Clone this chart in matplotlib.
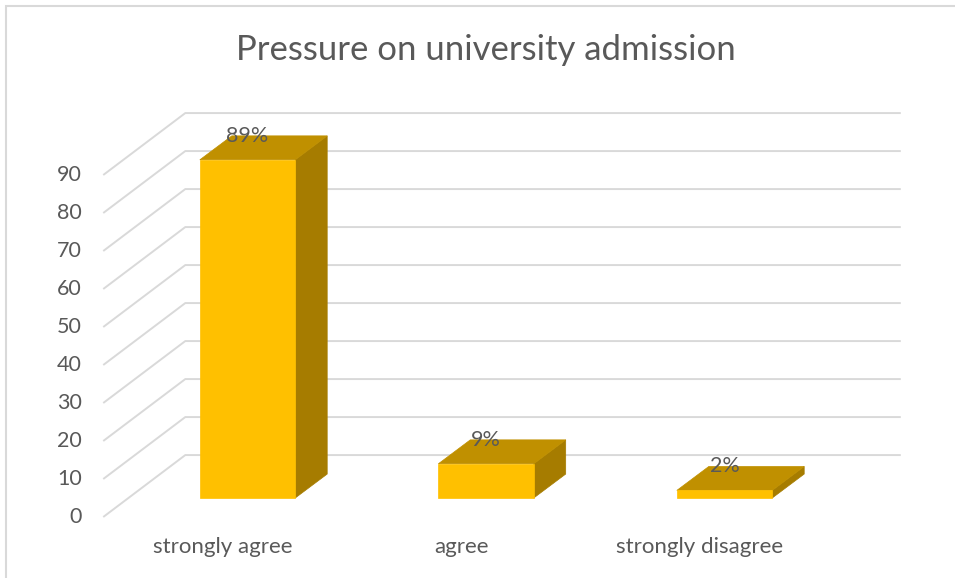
import matplotlib.pyplot as plt
from matplotlib.patches import Polygon, Rectangle

# data
categories = ['strongly agree', 'agree', 'strongly disagree']
values = [89, 9, 2]
value_labels = ['89%', '9%', '2%']
yticks = [0, 10, 20, 30, 40, 50, 60, 70, 80, 90]

title = 'Pressure on university admission'
text_color = '#595959'
grid_color = '#D9D9D9'
front_color = '#FFC000'
top_color = '#C09000'
side_color = '#A67C00'

# oblique 3D layout (in data units)
DX, DY = 0.344, 16.3          # full floor depth
F0X, F0Y = 0.105, 5.0         # bar front face offset
F1X, F1Y = 0.239, 11.3        # bar back face offset
bar_w = 0.4

fig = plt.figure(figsize=(9.55, 5.78), dpi=100)
ax = fig.add_axes([0, 0, 1, 1])
# map pixels -> data: x_px = 222.5 + 238.5*x, y_px = 517 - 3.8*v
ax.set_xlim((0 - 222.5) / 238.5, (955 - 222.5) / 238.5)
ax.set_ylim((517 - 578) / 3.8, 517 / 3.8)
ax.axis('off')

# chart border
fig.patches.append(Rectangle((5.5 / 955, -0.1), 1.2, 1.1 - 6.5 / 578,
                             transform=fig.transFigure, fill=False,
                             edgecolor='#D9D9D9', linewidth=1.5))

# gridlines (side wall + back wall)
x_left, x_right = -0.5, len(categories) - 0.5
for v in yticks:
    ax.plot([x_left, x_left + DX, x_right + DX], [v, v + DY, v + DY],
            color=grid_color, linewidth=1.4, solid_capstyle='butt', zorder=1)
    ax.text(x_left - 0.09, v, str(v), ha='right', va='center',
            fontsize=15.5, color=text_color, family='Lato')

# bars
for i, (val, lab) in enumerate(zip(values, value_labels)):
    x0 = i - bar_w / 2 + F0X
    x1 = i + bar_w / 2 + F0X
    y0 = F0Y
    y1 = F0Y + val
    ddx, ddy = F1X - F0X, F1Y - F0Y
    # side face
    ax.add_patch(Polygon([(x1, y0), (x1 + ddx, y0 + ddy), (x1 + ddx, y1 + ddy), (x1, y1)],
                         closed=True, facecolor=side_color, edgecolor=side_color,
                         linewidth=0.5, zorder=3))
    # top face
    ax.add_patch(Polygon([(x0, y1), (x1, y1), (x1 + ddx, y1 + ddy), (x0 + ddx, y1 + ddy)],
                         closed=True, facecolor=top_color, edgecolor=top_color,
                         linewidth=0.5, zorder=3))
    # front face
    ax.add_patch(Polygon([(x0, y0), (x1, y0), (x1, y1), (x0, y1)],
                         closed=True, facecolor=front_color, edgecolor=front_color,
                         linewidth=0.5, zorder=4))
    ax.text(i + F0X, val + F1Y, lab, ha='center', va='center',
            fontsize=15.5, color=text_color, family='Lato', zorder=5)

# category labels
for i, cat in enumerate(categories):
    ax.text(i, -7.9, cat, ha='center', va='center', fontsize=16,
            color=text_color, family='Lato')

# title
ax.text(1.105, (517 - 50) / 3.8, title, ha='center', va='center',
        fontsize=25, color=text_color, family='Lato')

plt.savefig('out.png', dpi=100)
